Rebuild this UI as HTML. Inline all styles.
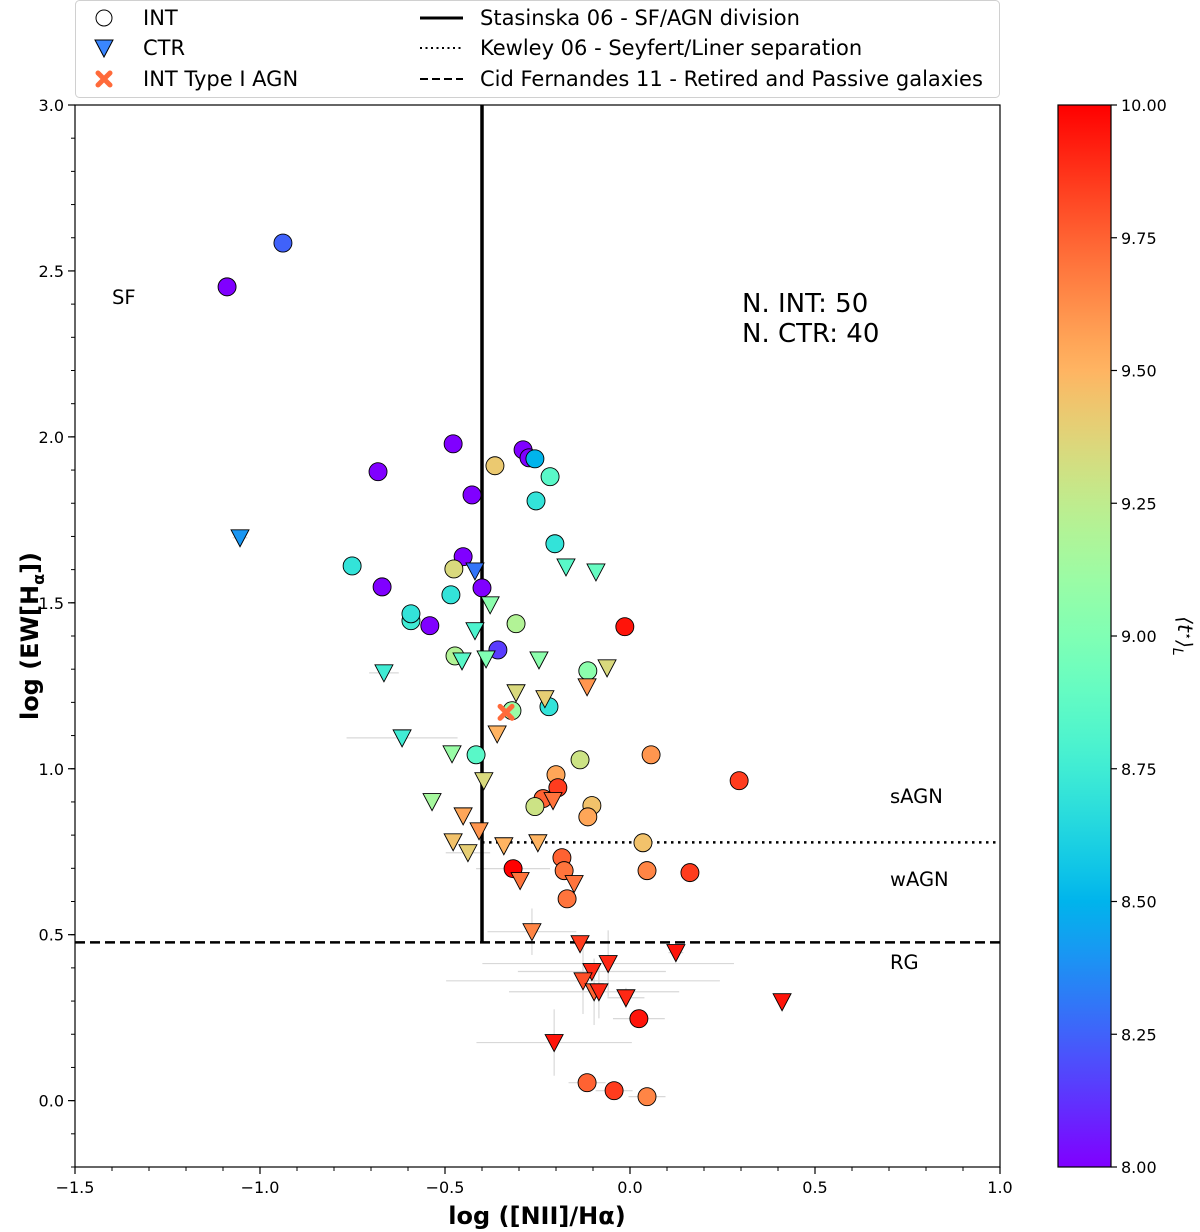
<!DOCTYPE html>
<html><head><meta charset="utf-8">
<style>
html,body{margin:0;padding:0;background:#fff;}
svg{display:block;font-family:"DejaVu Sans","Liberation Sans",sans-serif;}
</style></head>
<body>
<svg id="chart" width="1200" height="1232" viewBox="0 0 1200 1232" xmlns="http://www.w3.org/2000/svg">
<defs><linearGradient id="cbgrad" x1="0" y1="1" x2="0" y2="0"></linearGradient></defs>
<g id="errs"></g>
<g id="lines"></g>
<g id="marks"></g>
<g id="axes"></g>
<g id="cbar"></g>
<g id="legend"></g>
</svg>
<script>
// INT galaxies
const intX = [-0.938,-1.089,-0.478,-0.681,-0.289,-0.273,-0.257,-0.365,-0.216,-0.427,-0.254,-0.203,-0.451,-0.751,-0.476,-0.670,-0.484,-0.400,-0.592,-0.592,-0.541,-0.308,-0.014,-0.473,-0.357,-0.114,-0.319,-0.219,-0.416,-0.135,0.057,0.295,-0.200,-0.195,-0.235,-0.257,-0.103,-0.114,0.035,-0.184,-0.316,-0.178,0.046,0.162,-0.170,0.024,-0.116,-0.043,0.046];
const intY = [2.584,2.452,1.979,1.895,1.961,1.937,1.934,1.913,1.880,1.825,1.807,1.678,1.639,1.611,1.602,1.548,1.524,1.545,1.446,1.467,1.431,1.437,1.428,1.340,1.358,1.295,1.175,1.187,1.042,1.027,1.042,0.964,0.982,0.943,0.910,0.886,0.889,0.855,0.777,0.732,0.699,0.693,0.693,0.687,0.608,0.247,0.054,0.030,0.012];
const intAge = [8.25,8.0,8.0,8.0,8.0,8.0,8.5,9.42,8.85,8.0,8.7,8.7,8.0,8.7,9.35,8.0,8.7,8.0,8.75,8.7,8.0,9.2,9.95,9.2,8.15,9.05,9.1,8.7,8.85,9.3,9.6,9.85,9.55,9.85,9.75,9.3,9.45,9.55,9.45,9.75,10.0,9.7,9.65,9.85,9.7,9.95,9.75,9.85,9.65];
const intXerr = [0,0,0,0,0,0,0,0,0,0,0,0,0,0,0,0,0,0,0,0,0,0,0,0,0,0,0,0,0,0,0,0,0,0,0,0,0,0,0,0,0.1,0,0,0,0,0.07,0.05,0.05,0.05];
// CTR galaxies
const ctrX = [-1.054,-0.419,-0.173,-0.092,-0.378,-0.419,-0.665,-0.454,-0.389,-0.246,-0.062,-0.308,-0.230,-0.116,-0.616,-0.359,-0.481,-0.395,-0.535,-0.451,-0.208,-0.478,-0.408,-0.438,-0.249,-0.341,-0.297,-0.151,-0.265,-0.135,0.124,-0.059,-0.103,-0.127,-0.097,-0.084,-0.011,0.411,-0.205];
const ctrY = [1.696,1.596,1.608,1.593,1.494,1.416,1.289,1.325,1.331,1.328,1.304,1.229,1.211,1.247,1.093,1.105,1.045,0.964,0.901,0.858,0.904,0.780,0.813,0.747,0.777,0.768,0.663,0.654,0.509,0.473,0.446,0.413,0.389,0.361,0.328,0.328,0.310,0.298,0.175];
const ctrAge = [8.4,8.3,8.85,8.9,9.05,8.8,8.75,8.85,9.0,9.05,9.35,9.35,9.4,9.6,8.75,9.5,9.1,9.35,9.15,9.55,9.7,9.45,9.6,9.4,9.5,9.5,9.7,9.7,9.65,9.85,9.95,9.9,9.9,9.8,9.75,9.9,9.9,9.95,9.95];
const ctrXerr = [0.02,0,0,0,0,0,0.04,0,0,0,0,0,0,0,0.15,0,0,0,0,0,0,0,0,0.06,0,0,0,0,0.12,0,0.02,0.34,0.2,0.37,0.23,0,0.05,0,0.21];
const ctrYerr = [0,0,0,0,0,0,0,0,0,0,0,0,0,0,0,0,0,0,0,0,0,0,0,0,0,0,0,0,0.07,0,0,0.1,0,0.1,0.1,0.08,0.03,0,0.1];
// Type I AGN
const agnX = [-0.335];
const agnY = [1.170];
// axis ticks
const xTicks = [-1.5,-1.0,-0.5,0.0,0.5,1.0];
const xTickLabels = ["\u22121.5","\u22121.0","\u22120.5","0.0","0.5","1.0"];
const yTicks = [0.0,0.5,1.0,1.5,2.0,2.5,3.0];
const yTickLabels = ["0.0","0.5","1.0","1.5","2.0","2.5","3.0"];
const cbTicks = [8.0,8.25,8.5,8.75,9.0,9.25,9.5,9.75,10.0];
const cbTickLabels = ["8.00","8.25","8.50","8.75","9.00","9.25","9.50","9.75","10.00"];

const NS="http://www.w3.org/2000/svg";
const L=75,R=1000,T=105,B=1167, X0=-1.5,X1=1.0,Y0=-0.2,Y1=3.0;
const sx=v=>L+(v-X0)/(X1-X0)*(R-L);
const sy=v=>B-(v-Y0)/(Y1-Y0)*(B-T);
const CBL=1058,CBR=1111,CBT=105,CBB=1167;
const cy=v=>CBB-(v-8)/2*(CBB-CBT);
function rainbow(a){let x=Math.max(0,Math.min(1,(a-8)/2));
 let r=Math.min(1,Math.abs(2*x-0.5)),g=Math.sin(Math.PI*x),b=Math.cos(Math.PI*x/2);
 return `rgb(${Math.round(r*255)},${Math.round(Math.max(0,g)*255)},${Math.round(Math.max(0,b)*255)})`;}
function mk(tag,attrs,parent,txt){const e=document.createElementNS(NS,tag);for(const k in attrs)e.setAttribute(k,attrs[k]);if(txt!==undefined)e.textContent=txt;parent.appendChild(e);return e;}
const G=id=>document.getElementById(id);

// error bars
const errs=G('errs');
function errbar(x,y,xe,ye){
 if(xe>0){const l=mk('line',{x1:sx(x-xe),x2:sx(x+xe),y1:sy(y),y2:sy(y),stroke:'#d8d8d8','stroke-width':1.2},errs);
 
 }
 if(ye>0){const l=mk('line',{x1:sx(x),x2:sx(x),y1:sy(y-ye),y2:sy(y+ye),stroke:'#d8d8d8','stroke-width':1.2},errs);
 
 }
}
intX.forEach((x,i)=>errbar(x,intY[i],intXerr[i],0));
ctrX.forEach((x,i)=>errbar(x,ctrY[i],ctrXerr[i],ctrYerr[i]));

// lines
const lines=G('lines');
let e;
e=mk('line',{x1:sx(-0.4),x2:sx(-0.4),y1:T,y2:sy(0.477),stroke:'#000','stroke-width':3.5},lines);


e=mk('line',{x1:L,x2:R,y1:sy(0.477),y2:sy(0.477),stroke:'#000','stroke-width':2.5,'stroke-dasharray':'10,5'},lines);


e=mk('line',{x1:sx(-0.4),x2:R,y1:sy(0.778),y2:sy(0.778),stroke:'#000','stroke-width':2.5,'stroke-dasharray':'2.5,4.5'},lines);



// marks
const marks=G('marks');
intX.forEach((x,i)=>{const c=mk('circle',{cx:sx(x),cy:sy(intY[i]),r:9,fill:rainbow(intAge[i]),stroke:'#000','stroke-width':0.9},marks);
 
 });
ctrX.forEach((x,i)=>{const px=sx(x),py=sy(ctrY[i]);
 const p=mk('polygon',{points:`${px-9},${py-8} ${px+9},${py-8} ${px},${py+9}`,fill:rainbow(ctrAge[i]),stroke:'#000','stroke-width':0.9},marks);
 
 });
agnX.forEach((x,i)=>{const px=sx(x),py=sy(agnY[i]);
 const g=mk('g',{},marks);
 
 
 mk('path',{d:`M${px-6},${py-6}L${px+6},${py+6}M${px+6},${py-6}L${px-6},${py+6}`,stroke:'#ff6a3a','stroke-width':5,'stroke-linecap':'round'},g);});

// axes
const ax=G('axes');
e=mk('rect',{x:L,y:T,width:R-L,height:B-T,fill:'none',stroke:'#000','stroke-width':1.2},ax);


for(let k=0;k<=25;k++){const v=-1.5+k*0.1;const x=sx(v);mk('line',{x1:x,x2:x,y1:B,y2:B+4,stroke:'#000','stroke-width':1},ax);}
for(let k=0;k<=32;k++){const v=-0.2+k*0.1;const y=sy(v);mk('line',{x1:L-4,x2:L,y1:y,y2:y,stroke:'#000','stroke-width':1},ax);}
xTicks.forEach((v,i)=>{const x=sx(v);mk('line',{x1:x,x2:x,y1:B,y2:B+7,stroke:'#000','stroke-width':1.2},ax);
 const t=mk('text',{x:x,y:B+26,'font-size':16,'text-anchor':'middle'},ax,xTickLabels[i]);
 
 });
yTicks.forEach((v,i)=>{const y=sy(v);mk('line',{x1:L-7,x2:L,y1:y,y2:y,stroke:'#000','stroke-width':1.2},ax);
 const t=mk('text',{x:L-11,y:y+6,'font-size':16,'text-anchor':'end'},ax,yTickLabels[i]);
 
 });
e=mk('text',{x:537,y:1224,'font-size':24,'font-weight':'bold','text-anchor':'middle'},ax,'log ([NII]/Hα)');


e=mk('text',{x:0,y:0,'font-size':24,'font-weight':'bold','text-anchor':'middle',transform:'translate(38,636) rotate(-90)'},ax);


e.innerHTML='log (EW[H<tspan font-size="16" dy="6">α</tspan><tspan dy="-6">])</tspan>';
const ann=[['SF',112,304,19.5],['sAGN',890,803,19.5],['wAGN',890,886,19.5],['RG',890,969,19.5],['N. INT: 50',742,312,26],['N. CTR: 40',742,342,26]];
ann.forEach(a=>{const t=mk('text',{x:a[1],y:a[2],'font-size':a[3]},ax,a[0]);
 
 });

// colorbar
const grad=G('cbgrad');
for(let k=0;k<=40;k++){mk('stop',{offset:(k/40),'stop-color':rainbow(8+2*k/40)},grad);}
const cb=G('cbar');
e=mk('rect',{x:CBL,y:CBT,width:CBR-CBL,height:CBB-CBT,fill:'url(#cbgrad)',stroke:'#000','stroke-width':1.2},cb);


cbTicks.forEach((v,i)=>{const y=cy(v);mk('line',{x1:CBR,x2:CBR+6,y1:y,y2:y,stroke:'#000','stroke-width':1.2},cb);
 const t=mk('text',{x:CBR+10,y:y+6,'font-size':16},cb,cbTickLabels[i]);
 
 });
e=mk('text',{x:0,y:0,'font-size':20,'text-anchor':'middle','font-style':'italic',transform:'translate(1178,636) rotate(90)'},cb);


e.innerHTML='⟨t<tspan font-size="13" dy="-6">⋆</tspan><tspan dy="6">⟩</tspan><tspan font-size="14" dy="5">L</tspan>';

// legend
const lg=G('legend');
e=mk('rect',{x:75.5,y:0.5,width:924,height:97,rx:4,fill:'#fff',stroke:'#d0d0d0','stroke-width':1},lg);


const rows=[18,48,79];
function lgText(x,y,s,name){const t=mk('text',{x:x,y:y+7,'font-size':21},lg,s);
 
 }
mk('circle',{cx:104,cy:rows[0],r:8,fill:'#fff',stroke:'#000','stroke-width':1},lg);
lgText(143,rows[0],'INT','legend-int');
mk('polygon',{points:`95,${rows[1]-8} 113,${rows[1]-8} 104,${rows[1]+9}`,fill:'#3a86ff',stroke:'#000','stroke-width':1},lg);
lgText(143,rows[1],'CTR','legend-ctr');
mk('path',{d:`M98,${rows[2]-6}L110,${rows[2]+6}M110,${rows[2]-6}L98,${rows[2]+6}`,stroke:'#ff6a3a','stroke-width':5,'stroke-linecap':'round'},lg);
lgText(143,rows[2],'INT Type I AGN','legend-type1-agn');
mk('line',{x1:420,x2:463,y1:rows[0],y2:rows[0],stroke:'#000','stroke-width':3},lg);
lgText(480,rows[0],'Stasinska 06 - SF/AGN division','legend-stasinska');
mk('line',{x1:420,x2:463,y1:rows[1],y2:rows[1],stroke:'#000','stroke-width':2,'stroke-dasharray':'2,3.5'},lg);
lgText(480,rows[1],'Kewley 06 - Seyfert/Liner separation','legend-kewley');
mk('line',{x1:420,x2:463,y1:rows[2],y2:rows[2],stroke:'#000','stroke-width':2,'stroke-dasharray':'8,4'},lg);
lgText(480,rows[2],'Cid Fernandes 11 - Retired and Passive galaxies','legend-cid-fernandes');
</script>
</body></html>
